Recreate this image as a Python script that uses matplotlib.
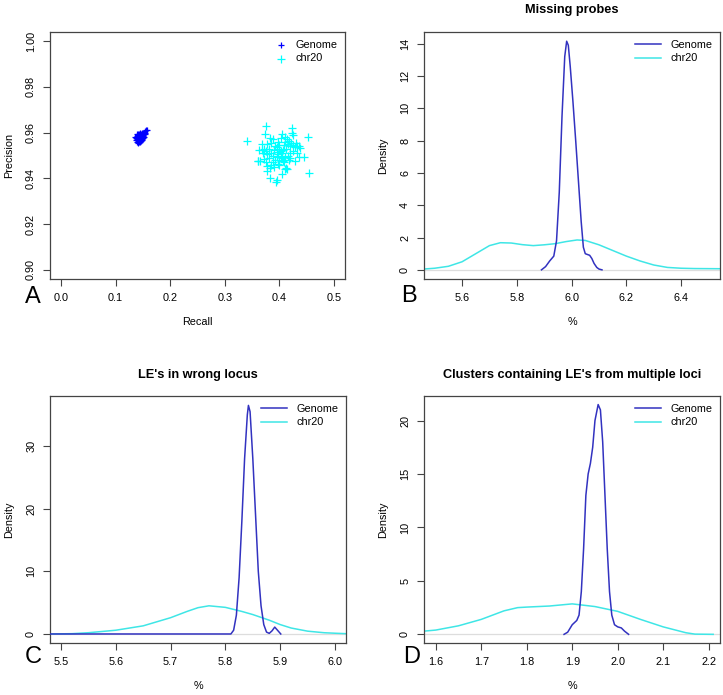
import numpy as np
import matplotlib
matplotlib.use("Agg")
import matplotlib.pyplot as plt

plt.rcParams['font.family'] = ['Liberation Sans', 'DejaVu Sans']

# ---- panel A: precision / recall scatter ----
genome_recall = [0.136, 0.138, 0.139, 0.140, 0.140, 0.141, 0.141, 0.142, 0.142, 0.143, 0.143, 0.143,
                 0.143, 0.144, 0.144, 0.145, 0.145, 0.145, 0.146, 0.146, 0.146, 0.147, 0.147, 0.148,
                 0.148, 0.148, 0.149, 0.149, 0.150, 0.150, 0.151, 0.151, 0.152, 0.153, 0.154, 0.156,
                 0.158, 0.137, 0.139, 0.141, 0.144, 0.147, 0.149, 0.152, 0.153, 0.142, 0.145, 0.140]
genome_precision = [0.9580, 0.9575, 0.9585, 0.9570, 0.9580, 0.9590, 0.9565, 0.9575, 0.9585, 0.9560, 0.9570, 0.9580,
                    0.9592, 0.9575, 0.9585, 0.9565, 0.9578, 0.9590, 0.9570, 0.9582, 0.9595, 0.9575, 0.9588, 0.9580,
                    0.9592, 0.9568, 0.9585, 0.9598, 0.9590, 0.9578, 0.9600, 0.9585, 0.9595, 0.9605, 0.9598, 0.9612,
                    0.9610, 0.9568, 0.9560, 0.9555, 0.9558, 0.9562, 0.9572, 0.9582, 0.9592, 0.9596, 0.9600, 0.9592]

chr20_recall = [0.341, 0.375, 0.4225, 0.4225, 0.453, 0.455, 0.3736, 0.404, 0.410, 0.389, 0.3675, 0.4316,
                0.4377, 0.4255, 0.3614, 0.364, 0.3767, 0.3767, 0.3828, 0.395, 0.393, 0.404, 0.413, 0.407,
                0.389, 0.380, 0.385, 0.390, 0.395, 0.398, 0.400, 0.402, 0.405, 0.408, 0.410, 0.412,
                0.415, 0.418, 0.420, 0.422, 0.425, 0.428, 0.430, 0.432, 0.435, 0.445, 0.428, 0.420,
                0.415, 0.410, 0.405, 0.400, 0.398, 0.395, 0.392, 0.388, 0.385, 0.380, 0.378, 0.375,
                0.372, 0.370, 0.368, 0.363, 0.360, 0.372, 0.376, 0.383, 0.390, 0.400, 0.408, 0.412,
                0.410, 0.418, 0.398, 0.385, 0.392, 0.400, 0.403, 0.413, 0.377, 0.382, 0.395, 0.402,
                0.407, 0.425, 0.420, 0.436]
chr20_precision = [0.9564, 0.9628, 0.9622, 0.9600, 0.9580, 0.9425, 0.9596, 0.9593, 0.9581, 0.9571, 0.9549, 0.9542,
                   0.9534, 0.9520, 0.9476, 0.9478, 0.9454, 0.9432, 0.9403, 0.9391, 0.9385, 0.9417, 0.9440, 0.9476,
                   0.9498, 0.9530, 0.9510, 0.9525, 0.9515, 0.9505, 0.9530, 0.9520, 0.9510, 0.9545, 0.9560, 0.9530,
                   0.9550, 0.9565, 0.9540, 0.9555, 0.9545, 0.9535, 0.9555, 0.9510, 0.9495, 0.9495, 0.9478, 0.9490,
                   0.9500, 0.9495, 0.9490, 0.9480, 0.9465, 0.9495, 0.9480, 0.9470, 0.9460, 0.9490, 0.9505, 0.9520,
                   0.9530, 0.9510, 0.9525, 0.9522, 0.9475, 0.9485, 0.9470, 0.9445, 0.9450, 0.9460, 0.9470, 0.9445,
                   0.9440, 0.9480, 0.9558, 0.9555, 0.9540, 0.9545, 0.9575, 0.9570, 0.9550, 0.9575, 0.9535, 0.9500,
                   0.9525, 0.9590, 0.9510, 0.9540]

# ---- panel B: missing probes density ----
b_genome_x = [5.890, 5.905, 5.920, 5.935, 5.945, 5.955, 5.965, 5.975, 5.982, 5.988, 5.995, 6.005,
              6.015, 6.025, 6.035, 6.043, 6.050, 6.058, 6.066, 6.074, 6.082, 6.092, 6.100, 6.111]
b_genome_y = [0.0, 0.2, 0.55, 0.85, 1.8, 4.8, 9.5, 13.2, 14.15, 13.9, 12.6, 10.4,
              8.0, 5.5, 3.0, 1.4, 1.0, 0.95, 0.9, 0.7, 0.4, 0.15, 0.05, 0.0]
b_chr20_x = [5.46, 5.50, 5.55, 5.60, 5.65, 5.70, 5.74, 5.78, 5.82, 5.86, 5.90, 5.94,
             5.98, 6.02, 6.05, 6.10, 6.15, 6.20, 6.25, 6.30, 6.35, 6.40, 6.45, 6.54]
b_chr20_y = [0.05, 0.1, 0.22, 0.5, 1.0, 1.5, 1.68, 1.66, 1.56, 1.50, 1.55, 1.62,
             1.75, 1.85, 1.82, 1.55, 1.2, 0.85, 0.55, 0.3, 0.15, 0.1, 0.08, 0.07]

# ---- panel C: LE's in wrong locus density ----
c_genome_x = [5.48, 5.600, 5.700, 5.810, 5.815, 5.820, 5.825, 5.830, 5.835, 5.840, 5.842, 5.845,
              5.850, 5.855, 5.860, 5.865, 5.870, 5.875, 5.880, 5.885, 5.890, 5.895, 5.901]
c_genome_y = [0.0, 0.0, 0.0, 0.0, 0.6, 3.0, 9.0, 18.0, 28.0, 35.0, 36.5, 35.5,
              28.0, 19.0, 10.0, 4.5, 1.5, 0.3, 0.1, 0.5, 1.1, 0.6, 0.0]
c_chr20_x = [5.48, 5.52, 5.55, 5.60, 5.65, 5.70, 5.73, 5.75, 5.77, 5.80, 5.83, 5.85,
             5.88, 5.90, 5.92, 5.95, 5.98, 6.00, 6.02]
c_chr20_y = [0.0, 0.05, 0.2, 0.6, 1.3, 2.6, 3.6, 4.2, 4.5, 4.25, 3.6, 3.1,
             2.2, 1.5, 0.95, 0.45, 0.2, 0.12, 0.05]

# ---- panel D: clusters containing LE's from multiple loci ----
d_genome_x = [1.882, 1.890, 1.900, 1.910, 1.915, 1.920, 1.925, 1.930, 1.935, 1.940, 1.945, 1.950,
              1.957, 1.962, 1.967, 1.972, 1.977, 1.982, 1.987, 1.993, 2.000, 2.008, 2.015, 2.024]
d_genome_y = [0.0, 0.2, 0.9, 1.3, 1.8, 4.0, 8.0, 13.0, 15.0, 16.0, 17.5, 20.0,
              21.5, 21.0, 18.0, 13.0, 8.0, 4.0, 1.8, 0.9, 0.7, 0.6, 0.3, 0.0]
d_chr20_x = [1.574, 1.60, 1.65, 1.70, 1.75, 1.78, 1.80, 1.85, 1.90, 1.95, 2.00, 2.05,
             2.10, 2.15, 2.17, 2.21]
d_chr20_y = [0.3, 0.4, 0.8, 1.4, 2.2, 2.5, 2.55, 2.65, 2.85, 2.6, 2.15, 1.4,
             0.7, 0.15, 0.02, 0.0]

GEN_LINE = '#3232c0'
CHR_LINE = '#3fe6e6'
FRAME = '#444444'
FS = 7.8

W, H = 723, 695
fig = plt.figure(figsize=(W / 100, H / 100), dpi=100)


def make_ax(left, top, right, bottom):
    ax = fig.add_axes([left / W, 1 - bottom / H, (right - left) / W, (bottom - top) / H])
    for s in ax.spines.values():
        s.set_color(FRAME)
        s.set_linewidth(0.9)
    ax.tick_params(direction='out', length=5, width=0.8, color=FRAME, labelsize=FS, pad=5)
    return ax


def finish(ax, xt, yt, xl, yl, xlab, ylab, title=None, tpad=14):
    ax.set_xlim(*xl)
    ax.set_ylim(*yl)
    ax.set_xticks(xt)
    ax.set_yticks(yt)
    ax.set_xlabel(xlab, fontsize=FS, labelpad=10.5)
    ax.set_ylabel(ylab, fontsize=FS, labelpad=8.5)
    if title:
        ax.set_title(title, fontsize=9.2, fontweight='bold', pad=tpad)


# A
axA = make_ax(50, 32, 345, 279)
axA.scatter(genome_recall, genome_precision, marker='+', s=22, color='blue', linewidths=0.9, label='Genome')
axA.scatter(chr20_recall, chr20_precision, marker='+', s=30, color='cyan', linewidths=0.9, label='chr20')
finish(axA, np.arange(0, 0.51, 0.1), np.arange(0.90, 1.001, 0.02), (-0.02, 0.52), (0.896, 1.004),
       'Recall', 'Precision')
axA.set_xticklabels(['0.0', '0.1', '0.2', '0.3', '0.4', '0.5'])
axA.set_yticklabels(['0.90', '0.92', '0.94', '0.96', '0.98', '1.00'], rotation=90, va='center')
axA.legend(loc='upper right', frameon=False, fontsize=FS, handletextpad=0.3, borderaxespad=0.3,
           labelspacing=0.35, scatterpoints=1)


def dens_panel(box, gx, gy, cx, cy, xt, yt, xl, yl, title, tpad):
    ax = make_ax(*box)
    ax.axhline(0, color='#dddddd', lw=0.9, zorder=1)
    ax.plot(gx, gy, color=GEN_LINE, lw=1.1, label='Genome', zorder=3)
    ax.plot(cx, cy, color=CHR_LINE, lw=1.1, label='chr20', zorder=2)
    finish(ax, xt, yt, xl, yl, '%', 'Density', title, tpad)
    ax.set_xticklabels(['%.1f' % v for v in xt])
    ax.set_yticklabels(['%d' % v for v in yt], rotation=90, va='center')
    ax.legend(loc='upper right', frameon=False, fontsize=FS, handlelength=2.4, handletextpad=0.9,
              borderaxespad=0.3, labelspacing=0.35)
    return ax


dens_panel((424, 32, 720, 279), b_genome_x, b_genome_y, b_chr20_x, b_chr20_y,
           [5.6, 5.8, 6.0, 6.2, 6.4], list(range(0, 15, 2)), (5.461, 6.542), (-0.566, 14.72),
           'Missing probes', 14)
dens_panel((50, 396, 346, 643), c_genome_x, c_genome_y, c_chr20_x, c_chr20_y,
           [5.5, 5.6, 5.7, 5.8, 5.9, 6.0], [0, 10, 20, 30], (5.48, 6.02), (-1.44, 38.0),
           "LE's in wrong locus", 13)
dens_panel((424, 396, 720, 643), d_genome_x, d_genome_y, d_chr20_x, d_chr20_y,
           [1.6, 1.7, 1.8, 1.9, 2.0, 2.1, 2.2], [0, 5, 10, 15, 20], (1.574, 2.225), (-0.81, 22.3),
           "Clusters containing LE's from multiple loci", 13)

for letter, px, py in [('A', 25, 303), ('B', 401, 302), ('C', 25, 663), ('D', 403, 663)]:
    fig.text(px / W, 1 - py / H, letter, fontsize=17, ha='left', va='baseline')

fig.savefig('out.png', dpi=100)
